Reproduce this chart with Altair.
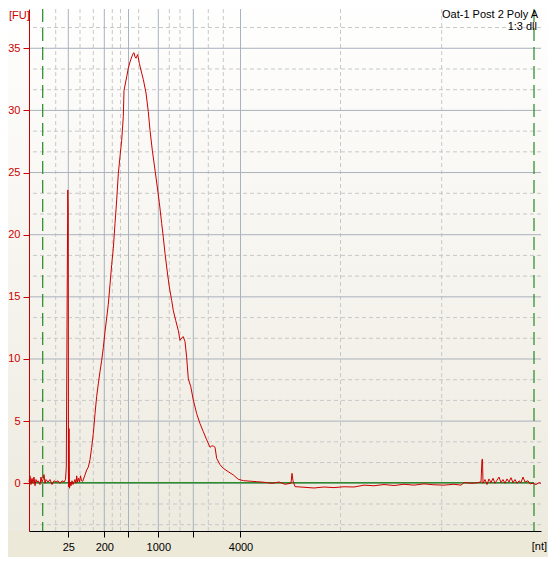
import altair as alt
import pandas as pd

# ---- data (migration time in seconds -> fluorescence units) ----
t_vals = [19.0, 19.1, 19.2, 19.3, 19.4, 19.5, 19.6, 19.7, 19.8, 19.9, 20.1, 20.2, 20.3, 20.4, 20.5, 20.6,
          20.7, 20.9, 21.1, 21.3, 21.5, 21.7, 21.9, 22.1, 22.3, 22.5, 22.65,
          22.73, 22.8, 22.88, 22.92, 22.95, 23.0, 23.05, 23.13,
          23.2, 23.3, 23.4, 23.5, 23.6, 23.7, 23.77, 23.85, 23.95, 24.05, 24.15, 24.25, 24.37,
          24.6, 24.77, 24.93, 25.1, 25.27, 25.43, 25.6, 25.77, 25.93, 26.1, 26.27, 26.43, 26.6,
          26.77, 26.93, 27.1, 27.27, 27.43, 27.6, 27.77, 27.93, 28.1, 28.27, 28.43, 28.5, 28.77,
          28.93, 29.1, 29.27, 29.43, 29.5, 29.6, 29.7, 29.87, 30.03, 30.27, 30.43, 30.7, 30.93,
          31.1, 31.33, 31.6, 31.87, 32.03, 32.27, 32.43, 32.6, 32.83, 33.03, 33.27, 33.43, 33.67,
          33.93, 34.1, 34.27, 34.43, 34.6, 34.77, 34.93, 35.17, 35.43, 35.77, 36.1, 36.43, 36.77,
          37.1, 37.27, 37.43, 37.6, 37.77, 38.1, 38.43, 38.93, 39.43, 39.93, 40.43, 41.77,
          42.5, 43.3, 44.0, 44.6, 45.2, 45.3, 45.4, 45.6, 46.5, 47.5, 48.5, 49.5, 50.5, 51.5,
          52.5, 53.5, 54.5, 55.5, 56.5, 57.5, 58.5, 59.5, 60.5, 61.5, 62.2, 62.5, 63.3, 63.9,
          64.1, 64.2, 64.3, 64.35, 64.4, 64.6, 64.8, 65.0, 65.2, 65.4, 65.6, 65.8, 66.0, 66.2,
          66.4, 66.6, 66.8, 67.0, 67.2, 67.4, 67.6, 67.8, 68.0, 68.2, 68.4, 68.6, 68.9, 69.1,
          69.4, 69.7, 70.0, 70.2]
fu_vals = [0.1, 0.6, -0.1, 0.4, 0.0, 0.5, -0.2, 0.3, 0.1, 0.2, -0.1, 0.5, 0.1, 0.3, 0.7, 0.0,
           0.3, 0.1, 0.3, -0.1, 0.2, 0.1, 0.2, 0.0, 0.2, 0.1, 0.3,
           1.3, 12.6, 23.6, 21.9, -0.3, 4.4, -0.4, 0.1,
           -0.2, 0.2, -0.1, 0.1, 0.3, 0.0, 0.6, 0.1, 0.4, 0.1, 0.6, 0.2, 0.15,
           0.67, 1.07, 1.3, 1.9, 2.9, 4.0, 5.6, 7.0, 8.0, 9.0, 9.9, 10.9, 12.2,
           13.3, 14.4, 16.0, 17.6, 18.9, 20.9, 22.8, 24.9, 26.3, 27.6, 29.5, 31.6, 32.7,
           33.4, 33.9, 34.3, 34.6, 34.65, 34.3, 34.2, 34.5, 33.8, 33.0, 32.5, 31.4, 29.9,
           28.4, 26.8, 25.2, 23.6, 22.6, 20.9, 19.8, 18.5, 17.0, 15.8, 14.7, 13.9, 13.1,
           12.3, 11.5, 11.7, 11.8, 11.4, 10.1, 8.4, 7.8, 6.7, 5.6, 4.8, 4.15, 3.5,
           2.9, 3.0, 3.0, 2.9, 2.0, 1.5, 1.2, 0.93, 0.67, 0.32, 0.21, 0.13,
           0.08, 0.0, 0.1, -0.08, 0.0, 0.8, 0.2, -0.27, -0.32, -0.38, -0.3, -0.35, -0.28, -0.3,
           -0.15, -0.2, -0.1, -0.18, -0.08, -0.15, -0.05, -0.12, -0.15, -0.08, -0.15, 0.05, 0.0, 0.05,
           0.1, 0.1, 1.93, 1.93, 0.0, 0.3, -0.1, 0.35, 0.05, 0.4, 0.0, 0.25, 0.5, 0.05,
           0.3, 0.0, 0.35, 0.1, 0.45, 0.05, 0.3, 0.0, 0.2, 0.05, 0.5, 0.1, 0.2, -0.05,
           0.0, -0.1, 0.05, 0.0]

# ladder tick positions (s) and their nt labels
ladder_pos = [22.93, 26.53, 28.95, 31.93, 35.43, 40.15]
ladder_lbl = ["25", "200", "", "1000", "", "4000"]
# dashed minor vertical grid positions (s)
minor_x = [21.67, 24.1, 25.43, 27.33, 28.15, 29.97, 33.03, 34.1, 36.93, 38.43, 50.15, 60.27]
# y grid
major_y = [0, 5, 10, 15, 20, 25, 30, 35]
minor_y = [-3.333, -1.667, 1.667, 3.333, 6.667, 8.333, 11.667, 13.333, 16.667, 18.333,
           21.667, 23.333, 26.667, 28.333, 31.667, 33.333, 36.667]
# marker (lower / upper) positions
marker_x = [20.37, 69.5]
baseline_start, baseline_end, baseline_level = [19.0], [69.5], [0.05]

title_lines = ["Oat-1 Post 2 Poly A", "1:3 dll"]

X_DOMAIN = [19.0, 70.2]
Y_DOMAIN = [-3.84, 38.16]
FONT = "Liberation Sans"
RED = "#CC0000"
GREEN = "#228B22"

label_expr = ""
for p, l in zip(ladder_pos, ladder_lbl):
    label_expr += f"datum.value == {p} ? '{l}' : "
label_expr += "''"

xscale = alt.Scale(domain=X_DOMAIN, nice=False, zero=False)
yscale = alt.Scale(domain=Y_DOMAIN, nice=False, zero=False)
xaxis = alt.Axis(values=ladder_pos, labelExpr=label_expr, grid=False, title=None,
                 domainColor="black", tickColor="black", tickSize=6, labelColor="black",
                 labelFont=FONT, labelFontSize=11, labelPadding=4, labelFlush=False,
                 labelOverlap=False, zindex=2)
yaxis = alt.Axis(values=major_y, grid=False, title=None, domainColor=RED, tickColor=RED,
                 tickSize=6, labelColor=RED, labelFont=FONT, labelFontSize=11, labelPadding=3,
                 zindex=2)

trace_df = pd.DataFrame({"t": t_vals, "fu": fu_vals})
one = pd.DataFrame({"a": [0]})

bg = alt.Chart(one).mark_rect(
    fill=alt.Gradient(gradient="linear",
                      stops=[alt.GradientStop(color="#FFFFFF", offset=0),
                             alt.GradientStop(color="#EDEADF", offset=1)],
                      x1=0, x2=0, y1=0, y2=1),
    stroke=None
).encode(x=alt.value(-30), x2=alt.value(530), y=alt.value(-10), y2=alt.value(522))

vminor = alt.Chart(pd.DataFrame({"t": minor_x})).mark_rule(
    color="#C8C8C8", strokeDash=[4, 3], strokeWidth=1
).encode(x=alt.X("t:Q", scale=xscale, axis=xaxis))
hminor = alt.Chart(pd.DataFrame({"fu": minor_y})).mark_rule(
    color="#C8C8C8", strokeDash=[4, 3], strokeWidth=1
).encode(y=alt.Y("fu:Q", scale=yscale, axis=yaxis))
vmajor = alt.Chart(pd.DataFrame({"t": ladder_pos})).mark_rule(
    color="#AAB2BE", strokeWidth=1
).encode(x=alt.X("t:Q", scale=xscale, axis=xaxis))
hmajor = alt.Chart(pd.DataFrame({"fu": major_y})).mark_rule(
    color="#AAB2BE", strokeWidth=1
).encode(y=alt.Y("fu:Q", scale=yscale, axis=yaxis))

baseline = alt.Chart(pd.DataFrame({"t": baseline_start, "t2": baseline_end, "fu": baseline_level})).mark_rule(
    color="#2E8B2E", strokeWidth=1.5
).encode(x=alt.X("t:Q", scale=xscale, axis=xaxis), x2="t2:Q",
         y=alt.Y("fu:Q", scale=yscale, axis=yaxis))

markers = alt.Chart(pd.DataFrame({"t": marker_x})).mark_rule(
    color=GREEN, strokeDash=[13, 6], strokeWidth=1.2
).encode(x=alt.X("t:Q", scale=xscale, axis=xaxis))

trace = alt.Chart(trace_df).mark_line(color=RED, strokeWidth=1).encode(
    x=alt.X("t:Q", scale=xscale, axis=xaxis),
    y=alt.Y("fu:Q", scale=yscale, axis=yaxis),
)

title1 = alt.Chart(one).mark_text(text=title_lines[0], align="right", baseline="alphabetic",
                                  font=FONT, fontSize=11, color="black").encode(
    x=alt.value(509), y=alt.value(9))
title2 = alt.Chart(one).mark_text(text=title_lines[1], align="right", baseline="alphabetic",
                                  font=FONT, fontSize=11, color="black").encode(
    x=alt.value(508), y=alt.value(21))
fu_lbl = alt.Chart(one).mark_text(text="[FU]", align="left", baseline="top",
                                  font=FONT, fontSize=11, color=RED).encode(
    x=alt.value(-20), y=alt.value(1))
nt_lbl = alt.Chart(one).mark_text(text="[nt]", align="right", baseline="middle",
                                  font=FONT, fontSize=11, color="black").encode(
    x=alt.value(518), y=alt.value(538))

chart = alt.layer(bg, vminor, hminor, vmajor, hmajor, baseline, markers, trace,
                  title1, title2, fu_lbl, nt_lbl).properties(
    width=512, height=522, autosize="none",
    padding={"left": 21, "top": 1, "right": 7, "bottom": 26},
    background="#ECE9D8",
).configure_view(stroke=None)

chart.save("out.html", embed_options={"renderer": "svg", "actions": False})
